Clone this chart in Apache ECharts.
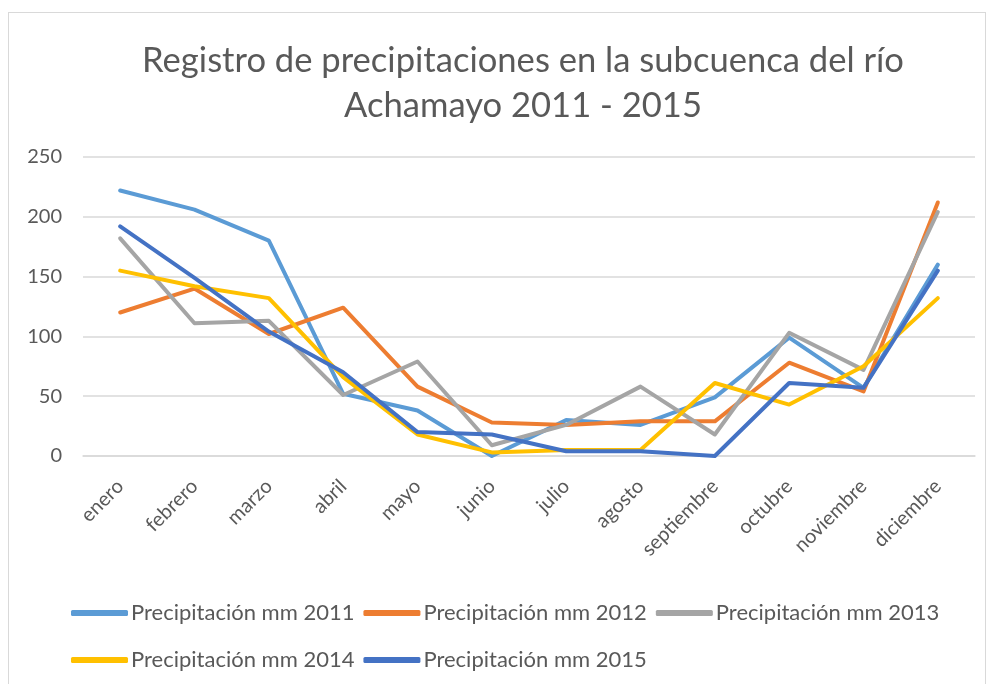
<!DOCTYPE html>
<html>
<head>
<meta charset="utf-8">
<script src="https://cdn.jsdelivr.net/npm/echarts@6/dist/echarts.min.js"></script>
<style>
  html, body { margin: 0; padding: 0; background: #fff; }
  #frame { position: absolute; left: 8px; top: 12px; width: 978px; height: 680px; border: 1px solid #d9d9d9; box-sizing: border-box; }
  #chart { position: absolute; left: 0; top: 0; width: 988px; height: 684px; }
</style>
</head>
<body>
<div id="frame"></div>
<div id="chart"></div>
<script>
// ============ 数据 ============
const months = ['enero', 'febrero', 'marzo', 'abril', 'mayo', 'junio', 'julio', 'agosto', 'septiembre', 'octubre', 'noviembre', 'diciembre']
const rain2011 = [222, 206, 180, 52, 38, 0, 30, 26, 49, 99, 57, 160]
const rain2012 = [120, 140, 102, 124, 58, 28, 26, 29, 29, 78, 54, 212]
const rain2013 = [182, 111, 113, 51, 79, 9, 26, 58, 18, 103, 72, 204]
const rain2014 = [155, 142, 132, 66, 18, 3, 5, 5, 61, 43, 75, 132]
const rain2015 = [192, 149, 104, 70, 20, 18, 4, 4, 0, 61, 57, 155]
const yTicks = [0, 50, 100, 150, 200, 250]

const seriesNames = ['Precipitación mm 2011', 'Precipitación mm 2012', 'Precipitación mm 2013', 'Precipitación mm 2014', 'Precipitación mm 2015']
const seriesData = [rain2011, rain2012, rain2013, rain2014, rain2015]
const COLORS = ['#5B9BD5', '#ED7D31', '#A5A5A5', '#FFC000', '#4472C4']
const TEXT = '#595959'
const FONT = 'Lato'

const chart = echarts.init(document.getElementById('chart'))

const legendBase = {
  itemWidth: 57,
  itemHeight: 6,
  itemGap: 9,
  icon: 'roundRect',
  textStyle: { color: TEXT, fontSize: 22, fontFamily: FONT, padding: [0, 0, 0, -2] }
}

chart.setOption({
  color: COLORS,
  animation: false,
  title: {
    text: 'Registro de precipitaciones en la subcuenca del río\nAchamayo 2011 - 2015',
    left: 518,
    textAlign: 'center',
    top: 33,
    textStyle: { color: TEXT, fontSize: 34.6, fontWeight: 'normal', fontFamily: FONT, lineHeight: 45 }
  },
  legend: [
    Object.assign({}, legendBase, { left: 66, top: 597, data: seriesNames.slice(0, 3) }),
    Object.assign({}, legendBase, { left: 66, top: 644, data: seriesNames.slice(3) })
  ],
  grid: { left: 83, right: 13, top: 157, bottom: 228 },
  xAxis: {
    type: 'category',
    data: months,
    boundaryGap: true,
    axisLine: { show: true, lineStyle: { color: '#d9d9d9', width: 1.5 } },
    axisTick: { show: false },
    axisLabel: { color: TEXT, fontSize: 20, fontFamily: FONT, rotate: 45, interval: 0, margin: 27 }
  },
  yAxis: {
    type: 'value',
    min: yTicks[0],
    max: yTicks[yTicks.length - 1],
    interval: 50,
    axisLine: { show: false },
    axisTick: { show: false },
    axisLabel: { color: TEXT, fontSize: 20, fontFamily: FONT, margin: 21 },
    splitLine: { lineStyle: { color: '#d9d9d9', width: 1.5 } }
  },
  series: seriesData.map((data, i) => ({
    name: seriesNames[i],
    type: 'line',
    data: data,
    symbol: 'none',
    lineStyle: { width: 4, cap: 'round', join: 'round' }
  }))
})
</script>
</body>
</html>
